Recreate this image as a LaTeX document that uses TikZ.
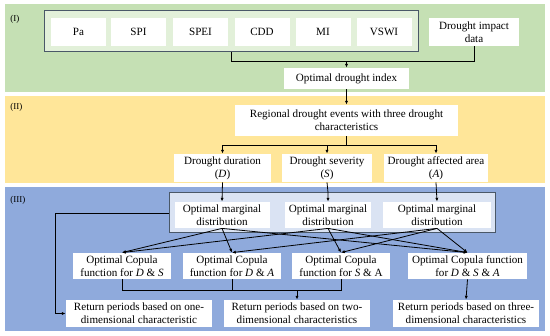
\documentclass[tikz,border=0pt]{standalone}
\usepackage{fontspec}
\setmainfont{Liberation Serif}
\usetikzlibrary{positioning,arrows.meta}

\definecolor{panelGreen}{RGB}{197,224,180}
\definecolor{groupGreen}{RGB}{226,240,217}
\definecolor{panelYellow}{RGB}{255,230,153}
\definecolor{panelBlue}{RGB}{143,170,220}
\definecolor{groupBlue}{RGB}{218,227,243}
\definecolor{groupLine}{RGB}{74,88,104}

\tikzset{
  box/.style={fill=white,inner sep=0pt,align=center,minimum height=28,
    font=\fontsize{11.1}{13}\selectfont},
  groupbox/.style={draw=groupLine,line width=1pt,inner sep=0pt},
  panelLabel/.style={anchor=west,inner sep=0pt,font=\fontsize{9}{10}\selectfont},
}

\begin{document}
\begin{tikzpicture}[x=1pt,y=-1pt,>={Latex[length=3.8pt,width=3.2pt]},line width=0.8pt]
\useasboundingbox (0,0) rectangle (550,336);

% three stages as coloured bands
\fill[panelGreen] (5,4) rectangle (545,92);
\fill[panelYellow] (5,96) rectangle (545,183);
\fill[panelBlue] (5,187) rectangle (545,331);
\node[panelLabel] (stageOne) at (10,19) {(I)};
\node[panelLabel] (stageTwo) at (10,107) {(II)};
\node[panelLabel] (stageThree) at (10,200) {(III)};

% (I) candidate indices
\node[groupbox,fill=groupGreen,minimum width=374,minimum height=41] (indexGroup) at (231,31.5) {};
\foreach \nm/\x in {Pa/78.5,SPI/138.5,SPEI/200.5,CDD/262,MI/323,VSWI/384}{
  \node[box,minimum width=55] (\nm) at (\x,32) {\nm};
}
\node[box,minimum width=90] (impactBox) at (474,32) {Drought impact\\data};
\node[box,minimum width=125,minimum height=21] (optIndex) at (346.5,78.5) {Optimal drought index};

\draw (indexGroup.south) -- ++(0,9) coordinate (joinOne) -| (impactBox.south);
\draw[->] (optIndex.north |- joinOne) -- (optIndex.north);

% (II) drought events and characteristics
\node[box,minimum width=223,minimum height=31] (eventBox) at (346.5,120.5) {Regional drought events with three drought\\characteristics};
\node[box,minimum width=97] (durBox) at (222.5,168) {Drought duration\\(\textit{D})};
\node[box,minimum width=90] (sevBox) at (327,168) {Drought severity\\(\textit{S})};
\node[box,minimum width=104] (areaBox) at (436,168) {Drought affected area\\(\textit{A})};

\draw[->] (optIndex.south) -- (eventBox.north);
\foreach \tgt in {durBox,sevBox,areaBox}{
  \draw[->] (eventBox.south) -- ++(0,9.5) -| (\tgt.north);
}

% (III) marginals, copulas and return periods
\node[groupbox,fill=groupBlue,minimum width=326,minimum height=40] (margGroup) at (332,213) {};
\node[box,minimum width=95,minimum height=26] (margD) at (222,215) {Optimal marginal\\distribution};
\node[box,minimum width=86,minimum height=26] (margS) at (328,215) {Optimal marginal\\distribution};
\node[box,minimum width=108,minimum height=26] (margA) at (437,215) {Optimal marginal\\distribution};

\draw[->] (durBox.south) -- (margD.north);
\draw[->] (sevBox.south) -- (margS.north |- margGroup.north) -- (margS.north);
\draw[->] (areaBox.south) -- (margA.north);

\node[box,minimum width=98,minimum height=26] (copDS) at (122,266) {Optimal Copula\\function for \textit{D} \& \textit{S}};
\node[box,minimum width=98,minimum height=26] (copDA) at (232,266) {Optimal Copula\\function for \textit{D} \& \textit{A}};
\node[box,minimum width=98,minimum height=26] (copSA) at (341,266) {Optimal Copula\\function for \textit{S} \& A};
\node[box,minimum width=119,minimum height=26] (copDSA) at (467.5,266) {Optimal Copula function\\for \textit{D} \& \textit{S} \& \textit{A}};

\foreach \src/\tgt in {margD/copDS,margD/copDA,margD/copDSA,
                       margS/copDS,margS/copSA,margS/copDSA,
                       margA/copDA,margA/copSA,margA/copDSA}{
  \draw[->] (\src.south) -- (\tgt.north);
}

\node[box,minimum width=146,minimum height=27] (retOne) at (139,313.5) {Return periods based on one-\\dimensional characteristic};
\node[box,minimum width=146,minimum height=27] (retTwo) at (297,313.5) {Return periods based on two-\\dimensional characteristics};
\node[box,minimum width=146,minimum height=27] (retThree) at (466,313.5) {Return periods based on three-\\dimensional characteristics};

\draw[->] (margGroup.west) -- ++(-113,0) |- (retOne.west);
\draw (copDS.south) -- ++(0,11) coordinate (joinTwo) -| (copSA.south);
\draw (copDA.south) -- (copDA.south |- joinTwo);
\draw[->] (retTwo.north |- joinTwo) -- (retTwo.north);
\draw[->] (copDSA.south) -- (retThree.north);
\end{tikzpicture}
\end{document}
